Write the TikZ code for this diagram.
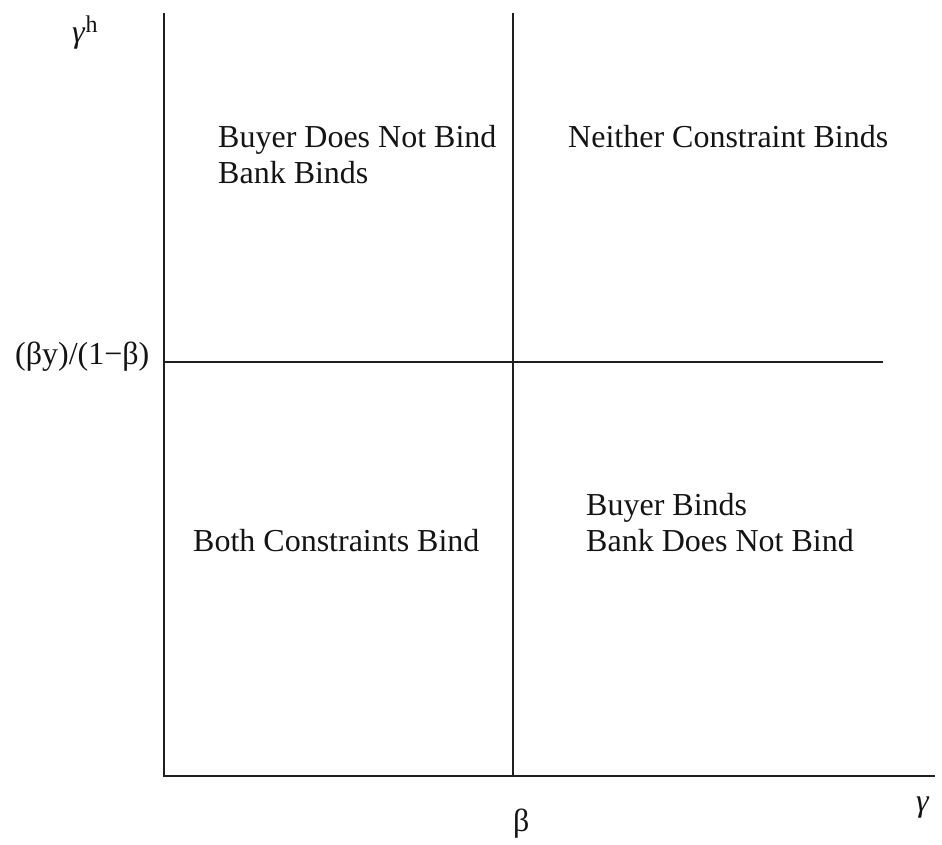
\documentclass[tikz,border=0pt]{standalone}
\usepackage{fontspec}
\setmainfont{Liberation Serif}
\tikzset{
  axisline/.style={line width=2.8pt, color=black!88},
  lbl/.style={anchor=base west, inner sep=0pt, font=\fontsize{32}{36}\selectfont, text=black!92}
}
\begin{document}
\begin{tikzpicture}[x=1pt,y=-1pt]
\useasboundingbox (0,0) rectangle (942,844);
% frame points
\coordinate (top) at (164,13);
\coordinate (origin) at (164,776);
\coordinate (xend) at (935,776);
\coordinate (midtop) at (513,13);
\coordinate (midbot) at (513,776);
\coordinate (hleft) at (164,362);
\coordinate (hright) at (883,362);
\draw[axisline] (top) -- (origin) -- (xend);
\draw[axisline] (midtop) -- (midbot);
\draw[axisline] (hleft) -- (hright);
% axis labels
\node[lbl] (gh) at (72,42) {\textit{γ}\raisebox{10pt}{\fontsize{24}{24}\selectfont h}};
\node[lbl] (thr) at (15,364) {(βy)/(1−β)};
\node[lbl] (beta) at (513,831) {β};
\node[lbl] (gam) at (916,811) {\textit{γ}};
% region labels
\node[lbl] (r1a) at (218,147) {Buyer Does Not Bind};
\node[lbl] (r1b) at (218,183) {Bank Binds};
\node[lbl] (r2) at (568,147) {Neither Constraint Binds};
\node[lbl] (r3a) at (586,515) {Buyer Binds};
\node[lbl] (r3b) at (586,551) {Bank Does Not Bind};
\node[lbl] (r4) at (193,551) {Both Constraints Bind};
\end{tikzpicture}
\end{document}
